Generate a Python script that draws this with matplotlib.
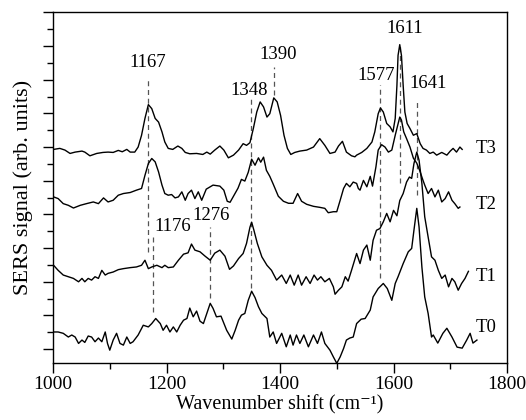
import numpy as np
import matplotlib
matplotlib.use("Agg")
import matplotlib.pyplot as plt
from matplotlib.ticker import MultipleLocator, NullFormatter

plt.rcParams["font.family"] = ["Liberation Serif", "DejaVu Serif"]

# SERS spectra (stacked, arbitrary units) --------------------------------
t3_wn = [1001, 1012, 1021, 1030, 1039, 1051, 1056, 1065, 1077, 1088, 1097, 1106, 1115, 1122,
         1130, 1136, 1144, 1150, 1156, 1162, 1168, 1174, 1180, 1186, 1192, 1197, 1203, 1211,
         1220, 1227, 1233, 1241, 1253, 1264, 1271, 1277, 1285, 1294, 1301, 1309, 1318, 1327,
         1335, 1341, 1347, 1353, 1359, 1365, 1371, 1377, 1382, 1389, 1395, 1401, 1407, 1413,
         1419, 1426, 1435, 1447, 1459, 1470, 1479, 1488, 1497, 1503, 1510, 1517, 1526, 1532,
         1535, 1544, 1553, 1562, 1567, 1573, 1577, 1582, 1588, 1594, 1599, 1603, 1606, 1608,
         1611, 1614, 1617, 1620, 1624, 1629, 1635, 1641, 1647, 1652, 1658, 1664, 1670, 1676,
         1685, 1694, 1700, 1705, 1711, 1717, 1721]
t3_int = [5.93, 5.96, 5.91, 5.81, 5.85, 5.88, 5.85, 5.74, 5.81, 5.84, 5.85, 5.84, 5.90, 5.86,
          5.93, 5.85, 5.85, 6.00, 6.35, 6.85, 7.26, 7.14, 6.85, 6.74, 6.45, 6.15, 5.96, 5.93,
          6.03, 5.96, 5.84, 5.80, 5.81, 5.78, 5.85, 5.79, 5.91, 6.03, 5.91, 5.68, 5.76, 5.91,
          6.10, 6.05, 6.13, 6.55, 7.04, 7.34, 7.19, 6.89, 6.99, 7.46, 7.34, 6.94, 6.35, 5.96,
          5.78, 5.84, 5.88, 5.91, 6.00, 6.25, 6.05, 5.81, 5.85, 6.03, 6.17, 5.85, 5.74, 5.71,
          5.76, 5.84, 5.96, 6.15, 6.45, 6.99, 7.16, 7.04, 6.70, 6.60, 6.45, 6.85, 7.83, 8.72,
          9.04, 8.72, 7.83, 7.04, 6.70, 6.55, 6.35, 6.40, 6.10, 5.96, 5.91, 5.81, 5.85, 5.76,
          5.84, 5.76, 5.88, 5.96, 5.85, 6.00, 5.93]

t2_wn = [1001, 1009, 1018, 1027, 1036, 1048, 1059, 1071, 1080, 1089, 1097, 1106, 1115, 1124,
         1136, 1147, 1156, 1162, 1168, 1174, 1180, 1186, 1192, 1197, 1203, 1209, 1215, 1221,
         1227, 1233, 1238, 1244, 1250, 1256, 1262, 1270, 1282, 1294, 1301, 1307, 1312, 1319,
         1326, 1332, 1338, 1344, 1350, 1356, 1362, 1366, 1371, 1376, 1382, 1388, 1397, 1406,
         1415, 1423, 1431, 1438, 1447, 1459, 1470, 1479, 1485, 1494, 1500, 1506, 1512, 1517,
         1523, 1529, 1535, 1538, 1541, 1547, 1553, 1559, 1563, 1569, 1573, 1579, 1585, 1591,
         1597, 1603, 1611, 1614, 1618, 1623, 1629, 1635, 1641, 1646, 1652, 1655, 1661, 1667,
         1673, 1679, 1685, 1691, 1697, 1703, 1708, 1714, 1717]
t2_int = [4.52, 4.47, 4.32, 4.27, 4.19, 4.27, 4.32, 4.37, 4.32, 4.49, 4.37, 4.42, 4.57, 4.62,
          4.65, 4.72, 4.77, 5.16, 5.51, 5.66, 5.56, 5.26, 4.87, 4.62, 4.57, 4.59, 4.49, 4.52,
          4.67, 4.42, 4.62, 4.72, 4.47, 4.67, 4.42, 4.75, 4.87, 4.84, 4.72, 4.39, 4.36, 4.57,
          4.78, 5.04, 4.99, 5.25, 5.64, 5.46, 5.68, 5.55, 5.70, 5.31, 5.13, 4.90, 4.54, 4.39,
          4.33, 4.33, 4.62, 4.39, 4.30, 4.24, 4.21, 4.18, 4.05, 4.08, 4.08, 4.42, 4.77, 4.92,
          4.82, 4.96, 4.92, 4.77, 4.72, 5.01, 4.82, 5.13, 4.84, 5.41, 5.91, 6.07, 6.00, 5.85,
          5.91, 6.35, 6.89, 6.80, 6.45, 6.25, 6.00, 5.67, 5.52, 5.31, 5.01, 4.87, 4.62, 4.77,
          4.52, 4.72, 4.37, 4.47, 4.67, 4.42, 4.32, 4.18, 4.22]

t1_wn = [1001, 1009, 1018, 1027, 1036, 1045, 1051, 1056, 1062, 1068, 1074, 1080, 1086, 1092,
         1097, 1106, 1115, 1124, 1136, 1147, 1156, 1162, 1168, 1174, 1183, 1192, 1197, 1203,
         1212, 1221, 1230, 1238, 1244, 1250, 1259, 1268, 1277, 1285, 1294, 1303, 1311, 1318,
         1327, 1335, 1341, 1347, 1350, 1354, 1360, 1368, 1377, 1385, 1394, 1403, 1411, 1418,
         1425, 1432, 1438, 1446, 1453, 1460, 1466, 1472, 1479, 1487, 1494, 1497, 1503, 1509,
         1515, 1520, 1526, 1535, 1541, 1547, 1553, 1559, 1564, 1570, 1576, 1582, 1588, 1594,
         1600, 1606, 1611, 1617, 1623, 1628, 1632, 1636, 1641, 1645, 1650, 1655, 1661, 1667,
         1673, 1679, 1685, 1691, 1697, 1703, 1708, 1714, 1720, 1726, 1732]
t1_int = [2.49, 2.34, 2.20, 2.15, 2.10, 2.00, 2.10, 2.00, 2.10, 2.05, 2.15, 2.10, 2.34, 2.20,
          2.25, 2.29, 2.36, 2.39, 2.42, 2.44, 2.49, 2.64, 2.39, 2.44, 2.49, 2.42, 2.49, 2.42,
          2.44, 2.64, 2.82, 2.86, 3.12, 2.94, 2.89, 2.76, 2.64, 2.85, 2.94, 2.76, 2.37, 2.47,
          2.69, 2.84, 3.14, 3.62, 3.77, 3.53, 3.14, 2.74, 2.49, 2.34, 2.05, 2.20, 1.95, 2.20,
          1.90, 2.20, 1.90, 2.15, 1.95, 2.20, 2.05, 2.15, 2.00, 2.10, 1.85, 1.63, 1.75, 1.85,
          2.15, 2.02, 2.34, 2.84, 2.54, 2.94, 3.09, 2.64, 3.23, 3.53, 3.58, 3.78, 4.03, 3.78,
          4.12, 3.96, 4.41, 4.62, 4.96, 5.11, 5.07, 5.51, 5.85, 5.61, 4.92, 3.93, 3.33, 2.74,
          2.64, 2.34, 2.10, 2.20, 1.85, 2.10, 2.00, 1.75, 1.95, 2.10, 2.31]

t0_wn = [1001, 1009, 1018, 1027, 1033, 1039, 1045, 1051, 1056, 1062, 1068, 1074, 1080, 1086,
         1092, 1096, 1100, 1106, 1112, 1118, 1124, 1130, 1136, 1141, 1150, 1159, 1168, 1174,
         1181, 1189, 1194, 1200, 1206, 1212, 1218, 1224, 1230, 1236, 1241, 1247, 1253, 1259,
         1265, 1271, 1277, 1282, 1288, 1296, 1306, 1315, 1321, 1327, 1332, 1338, 1344, 1350,
         1356, 1362, 1368, 1377, 1382, 1388, 1394, 1403, 1411, 1418, 1423, 1429, 1435, 1442,
         1450, 1459, 1466, 1473, 1479, 1488, 1494, 1500, 1506, 1512, 1517, 1523, 1529, 1535,
         1543, 1550, 1559, 1564, 1573, 1582, 1589, 1597, 1603, 1608, 1617, 1626, 1632, 1636,
         1641, 1645, 1650, 1655, 1661, 1667, 1670, 1678, 1687, 1694, 1703, 1712, 1721, 1729,
         1735, 1740, 1747]
t0_int = [0.51, 0.51, 0.47, 0.36, 0.42, 0.36, 0.17, 0.27, 0.20, 0.39, 0.36, 0.22, 0.33, 0.22,
          0.51, 0.17, -0.03, 0.27, 0.47, 0.17, 0.12, 0.36, 0.17, 0.22, 0.42, 0.71, 0.66, 0.76,
          0.91, 0.76, 0.56, 0.71, 0.51, 0.66, 0.51, 0.71, 0.86, 0.91, 1.22, 0.96, 1.13, 0.83,
          0.76, 1.06, 1.36, 1.21, 0.96, 0.98, 0.56, 0.30, 0.56, 0.86, 1.01, 1.06, 1.45, 1.72,
          1.53, 1.26, 1.06, 0.91, 0.36, 0.51, 0.17, 0.47, 0.07, 0.42, 0.12, 0.42, 0.17, 0.42,
          0.07, 0.42, 0.17, 0.51, 0.17, -0.03, -0.23, -0.42, -0.23, 0.02, 0.27, 0.33, 0.36, 0.76,
          0.89, 0.91, 1.16, 1.55, 1.80, 1.95, 1.80, 1.45, 1.95, 2.15, 2.54, 2.89, 2.99, 3.53,
          4.18, 3.63, 2.44, 1.55, 1.06, 0.36, 0.42, 0.18, 0.47, 0.62, 0.36, 0.06, 0.03, 0.27,
          0.47, 0.18, 0.27]

spectra = [("T0", t0_wn, t0_int), ("T1", t1_wn, t1_int),
           ("T2", t2_wn, t2_int), ("T3", t3_wn, t3_int)]

# Assigned band positions (cm-1)
bands = [1167, 1176, 1276, 1348, 1390, 1577, 1611, 1641]

# Marker-line extents and label placement for each band
band_lines = {1167: (2.88, 8.07), 1176: (1.10, 3.32), 1276: (1.51, 3.62), 1348: (1.81, 7.45),
              1390: (7.54, 8.37), 1577: (2.11, 7.83), 1611: (4.93, 9.02), 1641: (4.57, 7.39)}
band_text = {1167: (1167, 8.50, "center"), 1176: (1178, 3.65, "left"),
             1276: (1278, 3.96, "center"), 1348: (1345, 7.67, "center"),
             1390: (1396, 8.75, "center"), 1577: (1569, 8.13, "center"),
             1611: (1620, 9.52, "center"), 1641: (1661, 7.89, "center")}
trace_label_y = {"T0": 0.65, "T1": 2.17, "T2": 4.30, "T3": 5.96}

fig = plt.figure(figsize=(5.26, 4.2), dpi=100)
ax = fig.add_axes([0.1008, 0.135, 0.8631, 0.8357])

for b in bands:
    y0, y1 = band_lines[b]
    ax.plot([b, b], [y0, y1], color="#555555", lw=0.9, dashes=(4, 3), zorder=1)
    tx, ty, ha = band_text[b]
    ax.text(tx, ty, str(b), ha=ha, va="center", fontsize=13.5)

for name, wn, inten in spectra:
    ax.plot(wn, inten, color="black", lw=1.0, zorder=2)
    ax.text(1744, trace_label_y[name], name, ha="left", va="center", fontsize=13.5)

ax.set_xlim(1000, 1800)
ax.set_ylim(-0.42, 10)
ax.xaxis.set_major_locator(MultipleLocator(200))
ax.xaxis.set_minor_locator(MultipleLocator(100))
ax.yaxis.set_major_locator(MultipleLocator(1))
ax.yaxis.set_minor_locator(MultipleLocator(0.5))
ax.yaxis.set_major_formatter(NullFormatter())
ax.tick_params(axis="both", which="major", direction="out", length=7, width=1.0,
               labelsize=14, pad=2.5)
ax.tick_params(axis="both", which="minor", direction="out", length=4, width=1.0)
for s in ax.spines.values():
    s.set_linewidth(1.0)

ax.set_xlabel("Wavenumber shift (cm\u207b\u00b9)", fontsize=14.5)
ax.xaxis.set_label_coords(0.5, -0.09, transform=ax.transAxes)
ax.xaxis.label.set_va("top")
ax.set_ylabel("SERS signal (arb. units)", fontsize=16, labelpad=5)

fig.savefig("out.png", dpi=100)
